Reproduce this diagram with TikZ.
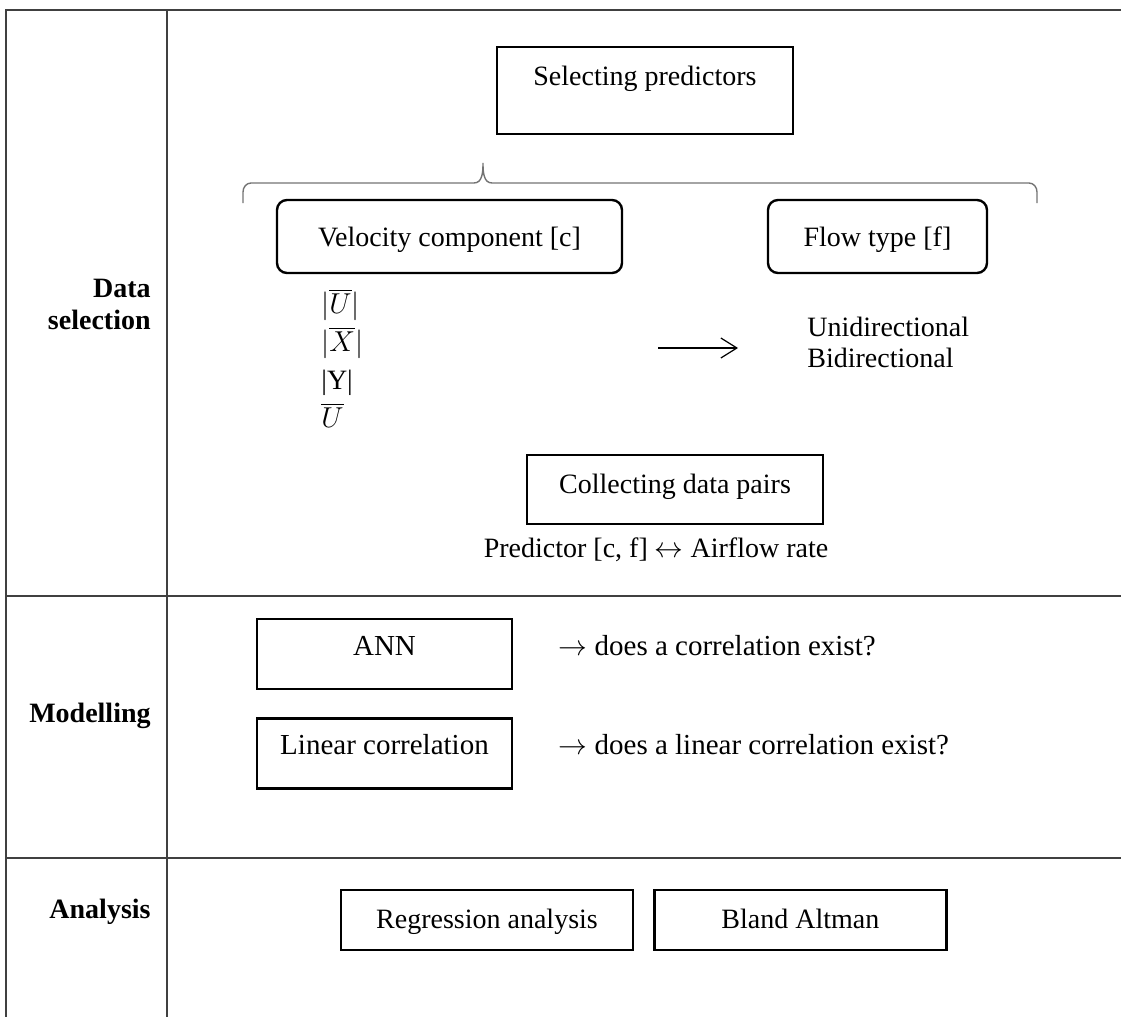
\documentclass[tikz,border=0pt]{standalone}
\usepackage{fontspec}
\setmainfont{Liberation Serif}
\usepackage{tikz}
\usetikzlibrary{arrows.meta, positioning}
\tikzset{
  box/.style={rectangle, draw, line width=1.2pt, inner sep=0pt,
              font=\fontsize{14}{17}\selectfont},
  roundbox/.style={box, rounded corners=5pt, text height=23pt, text depth=13.5pt},
  mbox/.style={box, minimum width=127.5pt, text height=18pt, text depth=17pt,
               font=\fontsize{14.5}{17}\selectfont},
  abox/.style={box, minimum width=146pt, text height=19pt, text depth=11pt},
  plaintext/.style={inner sep=0pt, font=\fontsize{14}{17}\selectfont},
  question/.style={plaintext, font=\fontsize{14.5}{17}\selectfont},
  rowlabel/.style={inner sep=0pt, align=right,
                   font=\fontsize{14}{16}\selectfont\bfseries},
  % --- table rules, bracket and the lone arrow ---
  gridline/.style={line width=1pt, draw=black!75},
  bracket/.style={line width=0.7pt, draw=black!55},
  arrow/.style={-{Straight Barb[length=8pt, width=10pt]}, line width=0.6pt},
}

\begin{document}
\begin{tikzpicture}[x=0.5pt, y=-0.5pt]
  \useasboundingbox (0,0) rectangle (1121,1017);

  \draw[gridline] (1121,10) -- (6,10) -- (6,1017);
  \draw[gridline] (167,10) -- (167,1017);
  \draw[gridline] (6,596) -- (1121,596);
  \draw[gridline] (6,858) -- (1121,858);

  \node (lsel) [rowlabel, anchor=base east] at (151,329) {Data\\selection};
  \node (lmod) [rowlabel, anchor=base east] at (151,722) {Modelling};
  \node (lana) [rowlabel, anchor=base east] at (151,918) {Analysis};

  \node (sel) [box, minimum width=148pt, text height=19pt, text depth=24.5pt, anchor=base] at (645,85) {Selecting predictors};
  \draw[bracket] (243,203) -- (243,192) to[out=90, in=180] (251,183) -- (474,183)
    to[out=0, in=270] (483,163) to[out=270, in=180] (492,183) -- (1029,183)
    to[out=0, in=90] (1037,192) -- (1037,203);

  \node (velo) [roundbox, minimum width=172.5pt, anchor=base] at (449.5,246) {Velocity component [c]};
  \node (flow) [roundbox, minimum width=109.5pt, anchor=base] at (877.5,246) {Flow type [f]};

  \node (vlist) [plaintext, align=left, font=\fontsize{14}{19}\selectfont, anchor=base west] at (321,427)
    {$|\overline{U}|$\\$|\overline{X}|$\\|Y|\\$\overline{U}$};
  \node (ftype) [plaintext, align=left, font=\fontsize{14}{15.5}\selectfont, anchor=base west] at (807,367)
    {Unidirectional\\Bidirectional};
  \coordinate (arrs) at (658,348);
  \coordinate (arre) at (738,348);
  \draw[arrow] (arrs) -- (arre);

  \node (coll) [box, minimum width=148pt, text height=19pt, text depth=15.5pt, anchor=base] at (675,493) {Collecting data pairs};
  \node (pairs) [plaintext, below=6pt of coll, xshift=-9.5pt] {Predictor [c, f] $\leftrightarrow$ Airflow rate};

  \node (ann) [mbox, anchor=base] at (384.5,655) {ANN};
  \node (lin) [mbox, below=13.5pt of ann] {Linear correlation};
  \node (qann) [question, base right=22.5pt of ann] {$\rightarrow$ does a correlation exist?};
  \node (qlin) [question, base right=22.5pt of lin] {$\rightarrow$ does a linear correlation exist?};

  \node (reg) [abox, anchor=base] at (487,928) {Regression analysis};
  \node (bland) [abox, right=9.5pt of reg] {Bland Altman};
\end{tikzpicture}
\end{document}
